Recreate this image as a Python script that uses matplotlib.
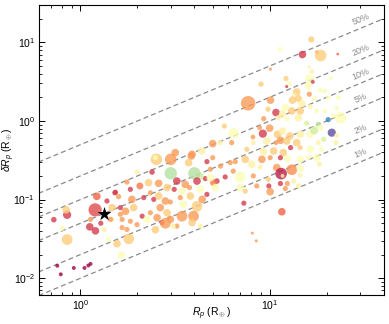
import numpy as np
import matplotlib
matplotlib.use("Agg")
import matplotlib.pyplot as plt

plt.rcParams['font.family'] = ['Liberation Sans', 'DejaVu Sans']
plt.rcParams['mathtext.fontset'] = 'custom'
plt.rcParams['mathtext.rm'] = 'Liberation Sans'
plt.rcParams['mathtext.it'] = 'Liberation Sans:italic'

# planet radius (R_earth)
rp = [16.6, 11.4, 14.9, 17.8, 18.6, 22.9, 10.1, 16.2, 16.7, 21.0,
      12.2, 16.2, 16.9, 9.0, 12.7, 12.3, 16.0, 18.5, 19.6, 13.9,
      16.2, 13.5, 7.7, 10.1, 13.2, 14.2, 14.8, 17.2, 20.4, 23.1,
      10.8, 9.8, 12.1, 11.7, 13.1, 14.5, 14.2, 16.4, 17.7, 19.6,
      21.7, 22.6, 20.4, 23.7, 9.3, 11.1, 12.4, 15.7, 18.1, 5.76,
      6.45, 9.2, 10.0, 8.85, 8.16, 11.0, 11.7, 12.8, 14.5, 16.4,
      17.2, 21.3, 18.5, 19.3, 18.1, 8.2, 9.67, 10.8, 11.4, 12.3,
      13.9, 5.0, 5.48, 6.3, 7.57, 12.9, 14.5, 16.4, 18.8, 22.4,
      9.28, 10.5, 11.8, 7.43, 9.1, 10.06, 11.4, 12.4, 14.5, 16.0,
      17.7, 5.0, 4.38, 6.58, 8.05, 8.91, 10.9, 13.1, 14.5, 18.3,
      5.5, 6.19, 6.42, 11.5, 11.7, 14.5, 6.99, 5.82, 5.26, 5.05,
      4.57, 4.85, 4.3, 8.2, 9.83, 11.4, 12.4, 13.4, 8.55, 9.9,
      12.1, 14.2, 6.99, 5.16, 10.06, 4.4, 11.6, 8.1, 8.5, 3.85,
      3.0, 2.52, 22.6, 3.0, 4.0, 4.13, 3.58, 3.23, 2.39, 1.99,
      1.76, 2.06, 2.29, 2.59, 2.87, 3.13, 3.44, 3.77, 4.3, 4.85,
      3.89, 3.17, 3.73, 4.66, 2.49, 1.53, 1.38, 1.59, 1.87, 1.835,
      2.16, 2.34, 2.44, 2.59, 2.81, 2.64, 2.985, 3.37, 3.5, 3.81,
      4.13, 4.66, 1.625, 1.73, 1.91, 2.12, 2.34, 2.25, 2.54, 2.87,
      2.70, 2.985, 3.23, 3.44, 3.96, 3.89, 4.3, 1.66, 1.47, 0.723,
      0.85, 0.84, 0.80, 0.85, 1.195, 1.13, 1.12, 1.2, 1.22, 1.28,
      1.33, 1.44, 1.47, 1.52, 1.66, 1.625, 1.835, 1.76, 1.8, 1.41,
      1.56, 1.645, 1.99, 2.49, 2.81, 3.1, 0.754, 0.787, 0.922, 1.05,
      1.10, 1.13, 7.43, 7.3]

# radius uncertainty (R_earth)
drp = [10.9, 8.2, 7.0, 7.5, 6.8, 7.1, 4.56, 4.88, 4.26, 3.5,
       3.47, 3.47, 3.14, 2.94, 3.0, 2.74, 2.79, 2.48, 2.41, 2.34,
       2.19, 2.13, 1.68, 1.84, 1.84, 1.93, 1.66, 1.93, 1.99, 1.99,
       1.28, 1.41, 1.48, 1.22, 1.34, 1.34, 1.10, 1.53, 1.34, 1.34,
       1.16, 1.45, 1.04, 1.10, 1.07, 1.10, 1.05, 0.935, 0.91, 0.86,
       0.697, 0.69, 0.81, 0.82, 0.625, 0.677, 0.746, 0.644, 0.677, 0.677,
       0.76, 0.71, 0.82, 0.585, 0.53, 0.53, 0.556, 0.53, 0.568, 0.556,
       0.53, 0.515, 0.53, 0.53, 0.436, 0.458, 0.458, 0.436, 0.436, 0.53,
       0.408, 0.415, 0.396, 0.325, 0.325, 0.341, 0.341, 0.332, 0.325, 0.341,
       0.341, 0.341, 0.415, 0.304, 0.281, 0.259, 0.255, 0.24, 0.25, 0.281,
       0.267, 0.295, 0.23, 0.214, 0.2, 0.205, 0.194, 0.194, 0.172, 0.164,
       0.185, 0.19, 0.2, 0.2, 0.181, 0.16, 0.16, 0.172, 0.149, 0.149,
       0.138, 0.149, 0.142, 0.142, 0.126, 0.1006, 0.07, 0.0374, 0.0298, 0.358,
       0.325, 0.325, 0.655, 0.216, 0.216, 0.172, 0.156, 0.172, 0.224, 0.224,
       0.167, 0.149, 0.164, 0.161, 0.142, 0.135, 0.128, 0.142, 0.135, 0.243,
       0.377, 0.396, 0.295, 0.304, 0.341, 0.124, 0.096, 0.109, 0.1006, 0.135,
       0.106, 0.122, 0.1006, 0.111, 0.096, 0.079, 0.093, 0.106, 0.087, 0.111,
       0.082, 0.1165, 0.079, 0.071, 0.079, 0.0615, 0.068, 0.056, 0.059, 0.068,
       0.051, 0.056, 0.046, 0.0615, 0.0615, 0.051, 0.046, 0.056, 0.056, 0.0555,
       0.064, 0.074, 0.043, 0.031, 0.074, 0.056, 0.045, 0.04, 0.11, 0.05,
       0.0415, 0.056, 0.079, 0.122, 0.044, 0.065, 0.053, 0.0417, 0.0317, 0.031,
       0.0275, 0.0198, 0.048, 0.0413, 0.05, 0.0455, 0.0144, 0.0112, 0.0135, 0.0135,
       0.0145, 0.0152, 0.128, 0.09]

# colour variable (0 = dark red ... 1 = purple)
cval = [0.36, 0.5, 0.1, 0.27, 0.36, 0.18, 0.27, 0.45, 0.45, 0.52,
        0.36, 0.52, 0.1, 0.36, 0.52, 0.1, 0.52, 0.52, 0.52, 0.36,
        0.27, 0.45, 0.27, 0.27, 0.36, 0.36, 0.45, 0.52, 0.52, 0.52,
        0.1, 0.36, 0.52, 0.45, 0.36, 0.36, 0.45, 0.45, 0.52, 0.52,
        0.52, 0.52, 0.9, 0.52, 0.27, 0.45, 0.52, 0.62, 0.68, 0.36,
        0.52, 0.1, 0.27, 0.27, 0.27, 0.36, 0.45, 0.36, 0.45, 0.52,
        0.64, 1.0, 0.52, 0.62, 0.45, 0.45, 0.45, 0.27, 0.27, 0.36,
        0.36, 0.27, 0.45, 0.27, 0.36, 0.1, 0.36, 0.52, 0.52, 0.45,
        0.45, 0.36, 0.36, 0.36, 0.27, 0.27, 0.1, 0.52, 0.52, 0.52,
        0.52, 0.27, 0.45, 0.27, 0.45, 0.45, 0.27, 0.25, 0.52, 0.45,
        0.27, 0.27, 0.27, 0.05, 0.45, 0.45, 0.52, 0.1, 0.1, 0.22,
        0.1, 0.52, 0.64, 0.27, 0.36, 0.1, 0.27, 0.45, 0.27, 0.1,
        0.27, 0.45, 0.52, 0.52, 0.27, 0.27, 0.18, 0.27, 0.27, 0.27,
        0.27, 0.36, 0.45, 0.68, 0.68, 0.1, 0.27, 0.1, 0.1, 0.45,
        0.27, 0.22, 0.36, 0.27, 0.36, 0.1, 0.52, 0.27, 0.52, 0.27,
        0.27, 0.27, 0.36, 0.1, 0.52, 0.1, 0.1, 0.27, 0.27, 0.1,
        0.1, 0.27, 0.1, 0.36, 0.27, 0.27, 0.27, 0.27, 0.52, 0.36,
        0.36, 0.1, 0.1, 0.27, 0.36, 0.1, 0.27, 0.52, 0.27, 0.36,
        0.1, 0.27, 0.27, 0.27, 0.27, 0.36, 0.45, 0.27, 0.45, 0.1,
        0.1, 0.36, 0.52, 0.36, 0.13, 0.27, 0.1, 0.1, 0.18, 0.1,
        0.45, 0.27, 0.36, 0.1, 0.27, 0.27, 0.27, 0.27, 0.36, 0.52,
        0.36, 0.52, 0.27, 0.36, 0.27, 0.45, 0.0, 0.0, 0.0, 0.0,
        0.0, 0.0, 0.36, 0.1]

# marker size variable
msize = [20, 12, 30, 8, 70, 4, 5, 5, 12, 10,
         14, 35, 8, 14, 14, 5, 30, 12, 12, 30,
         14, 14, 110, 30, 30, 25, 30, 12, 12, 12,
         30, 14, 30, 30, 30, 30, 30, 12, 12, 12,
         12, 12, 14, 70, 14, 14, 12, 14, 14, 14,
         60, 35, 30, 12, 12, 30, 30, 30, 30, 30,
         35, 35, 20, 14, 12, 12, 30, 12, 30, 30,
         30, 30, 14, 14, 14, 14, 14, 30, 14, 14,
         30, 30, 30, 30, 30, 14, 14, 30, 30, 14,
         30, 14, 30, 14, 30, 14, 30, 60, 30, 14,
         14, 14, 14, 70, 8, 12, 60, 14, 16, 25,
         14, 30, 25, 14, 14, 14, 14, 14, 14, 14,
         14, 14, 30, 30, 30, 30, 30, 5, 5, 30,
         70, 70, 12, 80, 80, 30, 30, 30, 16, 14,
         14, 25, 30, 30, 30, 14, 30, 14, 30, 14,
         30, 30, 30, 14, 14, 14, 14, 14, 30, 14,
         14, 14, 14, 30, 30, 30, 14, 14, 30, 30,
         60, 14, 14, 30, 30, 14, 14, 30, 30, 30,
         14, 30, 14, 60, 60, 30, 14, 14, 14, 16,
         35, 30, 14, 60, 90, 14, 30, 30, 30, 14,
         14, 14, 30, 14, 14, 14, 14, 14, 60, 14,
         30, 30, 14, 30, 60, 14, 8, 8, 8, 8,
         8, 8, 14, 14]

star_rp = [1.34]
star_drp = [0.065]

fractions = [0.01, 0.02, 0.05, 0.10, 0.20, 0.50]
frac_labels = ['1%', '2%', '5%', '10%', '20%', '50%']

fig = plt.figure(figsize=(3.89, 3.24), dpi=100)
ax = fig.add_axes([0.099, 0.091, 0.887, 0.894])

ax.set_xscale('log')
ax.set_yscale('log')
ax.set_xlim(0.6, 40)
ax.set_ylim(0.0062, 30)

xx = np.array([0.6, 40])
for f, lab in zip(fractions, frac_labels):
    ax.plot(xx, f * xx, ls=(0, (4, 2.5)), color='#8a8a8a', lw=0.9, zorder=1)
    p1 = ax.transData.transform((10, 10 * f))
    p2 = ax.transData.transform((20, 20 * f))
    ang = np.degrees(np.arctan2(p2[1] - p1[1], p2[0] - p1[0]))
    xt = 31.0
    ax.text(xt, f * xt * 1.12, lab, rotation=ang, rotation_mode='anchor',
            ha='center', va='bottom', color='#8a8a8a', fontsize=6.5, zorder=1)

ax.scatter(rp, drp, s=msize, c=cval, cmap='Spectral', vmin=0, vmax=1,
           alpha=0.8, edgecolors='none', zorder=2)
ax.scatter(star_rp, star_drp, marker='*', s=110, color='black', zorder=3,
           edgecolors='none')

ax.tick_params(which='both', direction='in', top=True, right=True,
               labelsize=7.5, pad=2.5)
ax.tick_params(which='major', length=4, width=0.7)
ax.tick_params(which='minor', length=2, width=0.6)
for sp in ax.spines.values():
    sp.set_linewidth(0.8)

ax.set_xlabel(r'$\mathit{R_p}$ (R$_\oplus$)', fontsize=7.5, va='center')
ax.set_ylabel(r'$\delta \mathit{R_p}$ (R$_\oplus$)', fontsize=7.5, va='center')
ax.xaxis.set_label_coords(0.5, -0.066)
ax.yaxis.set_label_coords(-0.085, 0.5)

fig.savefig('out.png', dpi=100)
